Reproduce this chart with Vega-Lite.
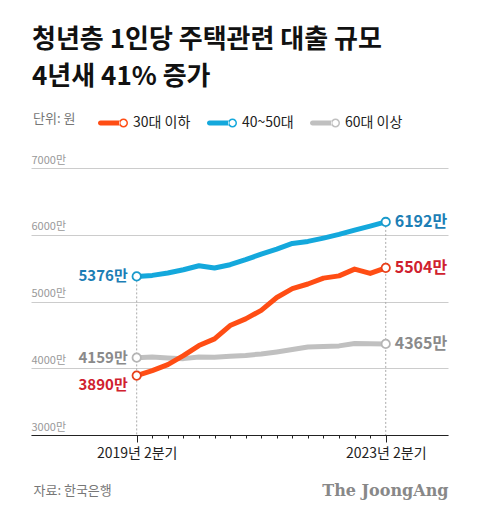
{
  "$schema": "https://vega.github.io/schema/vega-lite/v6.json",
  "width": 417,
  "height": 267,
  "autosize": {"type": "none"},
  "padding": {"left": 31, "top": 168, "right": 32, "bottom": 85},
  "background": "white",
  "config": {"font": "Noto Sans CJK KR", "view": {"stroke": null}},
  "title": {
    "text": ["청년층 1인당 주택관련 대출 규모", "4년새 41% 증가"],
    "anchor": "start",
    "frame": "group",
    "fontSize": 26,
    "fontWeight": "bold",
    "color": "#111111",
    "lineHeight": 37,
    "offset": 18,
    "dx": 1
  },
  "data": {
    "values": [
      {"q": 0, "series": "60대 이상", "value": 4159},
      {"q": 1, "series": "60대 이상", "value": 4169},
      {"q": 2, "series": "60대 이상", "value": 4154},
      {"q": 3, "series": "60대 이상", "value": 4144},
      {"q": 4, "series": "60대 이상", "value": 4170},
      {"q": 5, "series": "60대 이상", "value": 4165},
      {"q": 6, "series": "60대 이상", "value": 4180},
      {"q": 7, "series": "60대 이상", "value": 4192},
      {"q": 8, "series": "60대 이상", "value": 4215},
      {"q": 9, "series": "60대 이상", "value": 4245},
      {"q": 10, "series": "60대 이상", "value": 4280},
      {"q": 11, "series": "60대 이상", "value": 4318},
      {"q": 12, "series": "60대 이상", "value": 4325},
      {"q": 13, "series": "60대 이상", "value": 4335},
      {"q": 14, "series": "60대 이상", "value": 4372},
      {"q": 15, "series": "60대 이상", "value": 4368},
      {"q": 16, "series": "60대 이상", "value": 4365},
      {"q": 0, "series": "40~50대", "value": 5376},
      {"q": 1, "series": "40~50대", "value": 5391},
      {"q": 2, "series": "40~50대", "value": 5426},
      {"q": 3, "series": "40~50대", "value": 5476},
      {"q": 4, "series": "40~50대", "value": 5536},
      {"q": 5, "series": "40~50대", "value": 5501},
      {"q": 6, "series": "40~50대", "value": 5551},
      {"q": 7, "series": "40~50대", "value": 5626},
      {"q": 8, "series": "40~50대", "value": 5710},
      {"q": 9, "series": "40~50대", "value": 5785},
      {"q": 10, "series": "40~50대", "value": 5870},
      {"q": 11, "series": "40~50대", "value": 5900},
      {"q": 12, "series": "40~50대", "value": 5950},
      {"q": 13, "series": "40~50대", "value": 6005},
      {"q": 14, "series": "40~50대", "value": 6070},
      {"q": 15, "series": "40~50대", "value": 6130},
      {"q": 16, "series": "40~50대", "value": 6192},
      {"q": 0, "series": "30대 이하", "value": 3890},
      {"q": 1, "series": "30대 이하", "value": 3965},
      {"q": 2, "series": "30대 이하", "value": 4055},
      {"q": 3, "series": "30대 이하", "value": 4190},
      {"q": 4, "series": "30대 이하", "value": 4340},
      {"q": 5, "series": "30대 이하", "value": 4440},
      {"q": 6, "series": "30대 이하", "value": 4640},
      {"q": 7, "series": "30대 이하", "value": 4740},
      {"q": 8, "series": "30대 이하", "value": 4867},
      {"q": 9, "series": "30대 이하", "value": 5060},
      {"q": 10, "series": "30대 이하", "value": 5192},
      {"q": 11, "series": "30대 이하", "value": 5262},
      {"q": 12, "series": "30대 이하", "value": 5350},
      {"q": 13, "series": "30대 이하", "value": 5384},
      {"q": 14, "series": "30대 이하", "value": 5485},
      {"q": 15, "series": "30대 이하", "value": 5420},
      {"q": 16, "series": "30대 이하", "value": 5504}
    ]
  },
  "encoding": {
    "x": {
      "field": "q",
      "type": "quantitative",
      "scale": {"domain": [-6.79, 20], "nice": false, "zero": false},
      "axis": {
        "values": [0, 1, 2, 3, 4, 5, 6, 7, 8, 9, 10, 11, 12, 13, 14, 15, 16],
        "labelExpr": "datum.value == 0 ? '2019년 2분기' : (datum.value == 16 ? '2023년 2분기' : '')",
        "grid": false,
        "domainColor": "#222222",
        "tickColor": "#222222",
        "tickSize": {"condition": {"test": "datum.value == 0 || datum.value == 16", "value": 7}, "value": 3},
        "labelFontSize": 14,
        "labelColor": "#222222",
        "labelPadding": 4,
        "labelFlush": false,
        "labelOverlap": false,
        "title": "The JoongAng",
        "titleFont": "DejaVu Serif",
        "titleFontWeight": "bold",
        "titleFontSize": 16,
        "titleColor": "#888888",
        "titleAlign": "right",
        "titleBaseline": "middle",
        "titleX": 417,
        "titleY": 55
      }
    }
  },
  "layer": [
    {
      "transform": [{"filter": "datum.q == 0 || datum.q == 16"}],
      "mark": {"type": "rule", "color": "#aaaaaa", "strokeDash": [2, 2], "strokeWidth": 1},
      "encoding": {
        "y": {"aggregate": "max", "field": "value", "type": "quantitative"},
        "y2": {"datum": 3000}
      }
    },
    {
      "mark": {"type": "line", "strokeWidth": 5, "strokeCap": "round", "strokeJoin": "round"},
      "encoding": {
        "y": {
          "field": "value",
          "type": "quantitative",
          "scale": {"domain": [3000, 7000], "nice": false, "zero": false},
          "axis": {
            "values": [3000, 4000, 5000, 6000, 7000],
            "labelExpr": "datum.value + '만'",
            "domain": false,
            "ticks": false,
            "grid": true,
            "gridColor": "#cccccc",
            "labelAlign": "left",
            "labelBaseline": "bottom",
            "labelPadding": 0,
            "labelOffset": -3,
            "labelFontSize": 11,
            "labelColor": "#999999",
            "title": "자료: 한국은행",
            "titleAngle": 0,
            "titleAlign": "left",
            "titleBaseline": "middle",
            "titleX": 2,
            "titleY": 322,
            "titleFontSize": 13,
            "titleFontWeight": "normal",
            "titleColor": "#777777"
          }
        },
        "color": {
          "field": "series",
          "type": "nominal",
          "scale": {"domain": ["30대 이하", "40~50대", "60대 이상"], "range": ["#FF4D14", "#14A8DC", "#C0C0C0"]},
          "legend": {
            "orient": "none",
            "legendX": 2,
            "legendY": -60,
            "direction": "horizontal",
            "title": "단위: 원",
            "titleOrient": "left",
            "titleFontSize": 13,
            "titleFontWeight": "normal",
            "titleColor": "#777777",
            "titlePadding": 22,
            "labelFontSize": 14,
            "labelColor": "#222222",
            "labelOffset": 5,
            "columnPadding": 16,
            "symbolType": "M -0.83,-0.17 L 0.45,-0.17 L 0.45,0.17 L -0.83,0.17 A 0.17,0.17 0 0,1 -0.83,-0.17 Z M 1,0 A 0.3,0.3 0 1,0 0.4,0 A 0.3,0.3 0 1,0 1,0 Z M 0.9,0 A 0.2,0.2 0 1,1 0.5,0 A 0.2,0.2 0 1,1 0.9,0 Z",
            "symbolSize": 900,
            "symbolStrokeWidth": 0,
            "encode": {"symbols": {"update": {"fill": {"scale": "color", "field": "value"}, "opacity": {"value": 1}}}}
          }
        }
      }
    },
    {
      "transform": [{"filter": "datum.q == 0 || datum.q == 16"}],
      "mark": {
        "type": "point",
        "filled": false,
        "fill": "white",
        "size": 70,
        "strokeWidth": 1.8,
        "opacity": 1,
        "stroke": {"expr": "datum.series == '30대 이하' ? '#E8401A' : (datum.series == '40~50대' ? '#1A9ACB' : '#B5B5B5')"}
      },
      "encoding": {
        "y": {"field": "value", "type": "quantitative"}
      }
    },
    {
      "transform": [
        {"filter": "datum.q == 0 && datum.series != '30대 이하'"},
        {"calculate": "datum.value + '만'", "as": "label"}
      ],
      "mark": {
        "type": "text",
        "align": "right",
        "baseline": "middle",
        "dx": -9,
        "fontSize": 15,
        "fontWeight": "bold",
        "fill": {"expr": "datum.series == '30대 이하' ? '#D0212E' : (datum.series == '40~50대' ? '#1C7EB5' : '#8A8A8A')"}
      },
      "encoding": {
        "y": {"field": "value", "type": "quantitative"},
        "text": {"field": "label"}
      }
    },
    {
      "transform": [
        {"filter": "datum.q == 0 && datum.series == '30대 이하'"},
        {"calculate": "datum.value + '만'", "as": "label"}
      ],
      "mark": {"type": "text", "align": "right", "baseline": "middle", "dx": -9, "dy": 9, "fontSize": 15, "fontWeight": "bold", "fill": "#D0212E"},
      "encoding": {
        "y": {"field": "value", "type": "quantitative"},
        "text": {"field": "label"}
      }
    },
    {
      "transform": [
        {"filter": "datum.q == 16"},
        {"calculate": "datum.value + '만'", "as": "label"}
      ],
      "mark": {
        "type": "text",
        "align": "left",
        "baseline": "middle",
        "dx": 9,
        "fontSize": 16,
        "fontWeight": "bold",
        "fill": {"expr": "datum.series == '30대 이하' ? '#D0212E' : (datum.series == '40~50대' ? '#1C7EB5' : '#8A8A8A')"}
      },
      "encoding": {
        "y": {"field": "value", "type": "quantitative"},
        "text": {"field": "label"}
      }
    }
  ]
}
